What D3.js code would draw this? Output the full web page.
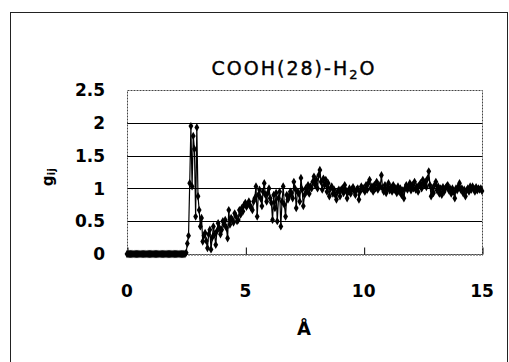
<!DOCTYPE html>
<html>
<head>
<meta charset="utf-8">
<script src="https://cdn.jsdelivr.net/npm/d3@7"></script>
<style>
  body { margin: 0; background: #fff; }
  text { fill: #000; }
</style>
</head>
<body>
<svg width="509" height="362"></svg>
<script>
// radial distribution g_ij, sampled every 0.05 Å from 0 to 15
const rStep = 0.05
const gValues = [
  0, 0, 0, 0, 0, 0, 0, 0, 0, 0,
  0, 0, 0, 0, 0, 0, 0, 0, 0, 0,
  0, 0, 0, 0, 0, 0, 0, 0, 0, 0,
  0, 0, 0, 0, 0, 0, 0, 0, 0, 0,
  0, 0, 0, 0, 0, 0, 0, 0, 0, 0,
  // 2.50
  0.02, 0.16, 0.28, 1.08, 1.95, 1.03, 1.80, 1.60, 0.57, 1.93,
  // 3.00
  0.88, 0.67, 0.42, 0.55, 0.19, 0.28, 0.32, 0.20, 0.09, 0.30,
  // 3.50
  0.37, 0.07, 0.25, 0.42, 0.30, 0.14, 0.35, 0.47, 0.40, 0.30,
  // 4.00
  0.37, 0.50, 0.45, 0.52, 0.40, 0.24, 0.67, 0.45, 0.55, 0.52,
  // 4.50
  0.48, 0.62, 0.58, 0.50, 0.52, 0.67, 0.60, 0.70, 0.65, 0.75,
  // 5.00
  0.78, 0.72, 0.75, 0.80, 0.74, 0.70, 0.67, 0.80, 0.85, 1.03,
  // 5.50
  0.57, 0.90, 0.98, 0.85, 0.73, 0.95, 1.08, 0.90, 0.80, 0.93,
  // 6.00
  1.00, 0.85, 0.78, 0.52, 0.90, 0.70, 0.93, 0.50, 0.85, 0.95,
  // 6.50
  0.42, 0.80, 1.03, 0.75, 0.57, 0.90, 0.83, 0.88, 0.95, 0.93,
  // 7.00
  0.85, 1.10, 1.00, 0.70, 0.95, 0.93, 0.80, 1.16, 0.98, 0.73,
  // 7.50
  0.90, 1.00, 0.95, 1.05, 0.92, 1.03, 1.00, 1.10, 1.18, 1.05,
  // 8.00
  1.13, 1.00, 1.20, 1.28, 1.10, 0.98, 1.15, 1.05, 1.13, 0.95,
  // 8.50
  1.08, 0.88, 1.00, 1.03, 0.92, 0.98, 0.90, 0.83, 0.95, 0.98,
  // 9.00
  0.88, 0.98, 1.00, 0.93, 1.05, 0.97, 0.85, 0.95, 1.00, 0.92,
  // 9.50
  0.98, 1.02, 0.96, 0.90, 0.98, 1.00, 0.83, 0.95, 1.03, 1.00,
  // 10.00
  1.00, 0.95, 1.05, 0.98, 1.08, 1.13, 1.00, 1.03, 0.95, 1.05,
  // 10.50
  1.00, 1.10, 0.98, 1.05, 1.03, 1.20, 1.00, 0.95, 1.05, 0.93,
  // 11.00
  1.00, 1.08, 0.97, 1.02, 0.95, 1.05, 0.98, 1.00, 0.93, 1.03,
  // 11.50
  0.95, 1.00, 0.90, 0.97, 0.85, 1.00, 1.05, 0.98, 1.03, 1.08,
  // 12.00
  0.97, 1.05, 1.00, 1.10, 0.98, 1.03, 0.95, 1.05, 1.08, 1.00,
  // 12.50
  1.13, 1.05, 1.10, 1.02, 1.15, 1.26, 1.05, 0.88, 1.00, 0.93,
  // 13.00
  1.05, 1.10, 0.97, 1.03, 0.92, 1.00, 0.90, 1.02, 0.95, 1.00,
  // 13.50
  1.03, 1.05, 0.97, 1.00, 0.92, 1.00, 0.95, 0.85, 1.00, 0.97,
  // 14.00
  1.03, 1.08, 0.98, 1.00, 0.93, 0.98, 0.88, 0.97, 1.00, 0.95,
  // 14.50
  1.03, 0.98, 1.03, 1.00, 0.95, 1.02, 0.97, 1.00, 0.98, 1.00,
  // 15.00
  0.96
]
const xTicks = [0, 5, 10, 15]
const yTicks = [0, 0.5, 1, 1.5, 2, 2.5]
const gridValues = [0.5, 1, 1.5, 2]

const svg = d3.select('svg')
const plot = {left: 127, right: 482, top: 90, bottom: 254}

const x = d3.scaleLinear().domain([0, 15]).range([plot.left, plot.right])
const y = d3.scaleLinear().domain([0, 2.5]).range([plot.bottom, plot.top])

// outer chart frame
svg.append('rect')
  .attr('x', 10.5).attr('y', 12.5)
  .attr('width', 497).attr('height', 360)
  .attr('fill', 'none')
  .attr('stroke', '#222')
  .attr('stroke-width', 1)

// title
const title = svg.append('text')
  .attr('x', 294).attr('y', 75)
  .attr('text-anchor', 'middle')
  .style('font-family', 'DejaVu Sans')
  .style('font-size', '19px')
  .style('letter-spacing', '2px')
  .attr('stroke', '#000')
  .attr('stroke-width', 0.4)
title.append('tspan').text('COOH(28)-H')
title.append('tspan').attr('dy', 4).style('font-size', '13px').text('2')
title.append('tspan').attr('dy', -4).text('O')

// gridlines
svg.append('g')
  .selectAll('line')
  .data(gridValues)
  .join('line')
  .attr('x1', plot.left).attr('x2', plot.right)
  .attr('y1', d => Math.round(y(d)) + 0.5)
  .attr('y2', d => Math.round(y(d)) + 0.5)
  .attr('stroke', '#000')
  .attr('stroke-width', 1)

// dotted plot-area border
svg.append('rect')
  .attr('x', plot.left + 0.5).attr('y', plot.top + 0.5)
  .attr('width', plot.right - plot.left).attr('height', plot.bottom - plot.top)
  .attr('fill', 'none')
  .attr('stroke', '#444')
  .attr('stroke-dasharray', '2,1')

// x axis, ticks pointing into the plot
const xAxis = svg.append('g')
  .attr('transform', `translate(0.5, ${plot.bottom + 0.5})`)
  .call(d3.axisBottom(x).tickValues(xTicks).tickSizeInner(-7).tickSizeOuter(0).tickFormat(''))
xAxis.select('.domain').attr('stroke', '#444').attr('stroke-dasharray', '2,1')
xAxis.selectAll('.tick line').attr('stroke', '#000')

svg.append('g')
  .selectAll('text')
  .data(xTicks)
  .join('text')
  .attr('x', d => x(d))
  .attr('y', 297)
  .attr('text-anchor', 'middle')
  .style('font-family', 'DejaVu Sans')
  .style('font-weight', 'bold')
  .style('font-size', '17px')
  .text(d => d)

// y tick labels
svg.append('g')
  .selectAll('text')
  .data(yTicks)
  .join('text')
  .attr('x', 105)
  .attr('y', d => y(d))
  .attr('dy', '0.36em')
  .attr('text-anchor', 'end')
  .style('font-family', 'DejaVu Sans')
  .style('font-weight', 'bold')
  .style('font-size', '17px')
  .text(d => d)

// axis titles
svg.append('text')
  .attr('x', 304).attr('y', 335)
  .attr('text-anchor', 'middle')
  .style('font-family', 'DejaVu Sans')
  .style('font-weight', 'bold')
  .style('font-size', '18px')
  .text('Å')

const yTitle = svg.append('text')
  .attr('transform', 'translate(53, 177) rotate(-90)')
  .attr('text-anchor', 'middle')
  .style('font-family', 'DejaVu Sans')
  .style('font-weight', 'bold')
  .style('font-size', '15px')
yTitle.append('tspan').text('g')
yTitle.append('tspan').attr('dy', 2).style('font-size', '11px').text('ij')

// series line + diamond markers
const points = gValues.map((g, i) => ({r: i * rStep, g: g}))

svg.append('path')
  .datum(points)
  .attr('fill', 'none')
  .attr('stroke', '#000')
  .attr('stroke-width', 1.2)
  .attr('d', d3.line().x(d => x(d.r)).y(d => y(d.g)))

svg.append('g')
  .selectAll('path')
  .data(points)
  .join('path')
  .attr('transform', d => `translate(${x(d.r)}, ${y(d.g)})`)
  .attr('d', d3.symbol().type(d3.symbolDiamond).size(20))
  .attr('fill', '#000')
</script>
</body>
</html>
